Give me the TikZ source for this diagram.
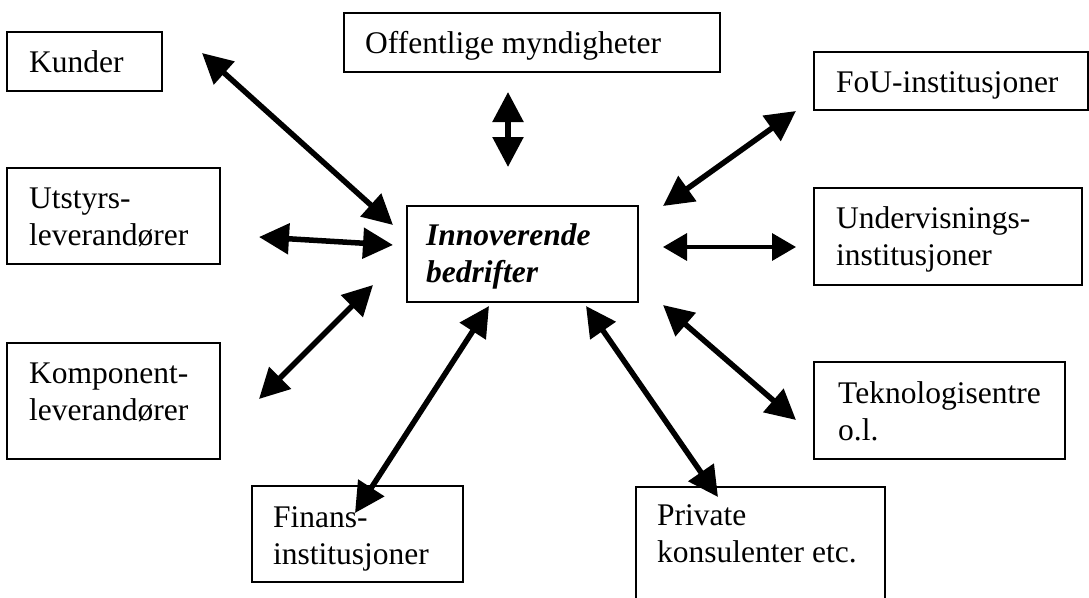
\documentclass[tikz,border=0pt]{standalone}
\usepackage{fontspec}
\setmainfont{Liberation Serif}
\usetikzlibrary{arrows.meta}
\begin{document}
\begin{tikzpicture}[x=1pt,y=-1pt,
  boxstyle/.style={draw=black,line width=1.2pt},
  lbl/.style={anchor=base west,inner sep=0pt,align=left,font=\fontsize{31.5}{37}\selectfont},
  biarrow/.style={line width=5.5pt,{Triangle[length=30pt,width=30pt]}-{Triangle[length=30pt,width=30pt]}},
  thinarrow/.style={line width=3.5pt,{Triangle[length=24pt,width=27pt]}-{Triangle[length=24pt,width=27pt]}}]
\useasboundingbox (0,0) rectangle (1089,597);
\clip (0,0) rectangle (1089,597);
\fill[white] (0,0) rectangle (1089,597);
% boxes (text nodes anchored at the baseline of their last line)
\draw[boxstyle] (7,32) rectangle (162,91);
\node[lbl] (tkunder) at (29,72) {Kunder};
\draw[boxstyle] (344,13) rectangle (720,72);
\node[lbl] (toff) at (365,53) {Offentlige myndigheter};
\draw[boxstyle] (814,52) rectangle (1088,110);
\node[lbl] (tfou) at (836,92) {FoU-institusjoner};
\draw[boxstyle] (7,168) rectangle (220,264);
\node[lbl] (tutst) at (29,245) {Utstyrs-\\leverandører};
\draw[boxstyle] (407,206) rectangle (638,302);
\node[lbl,font=\fontsize{31.5}{37}\selectfont\bfseries\itshape] (tinnov) at (426,282) {Innoverende\\bedrifter};
\draw[boxstyle] (814,188) rectangle (1082,285);
\node[lbl] (tunder) at (836,265) {Undervisnings-\\institusjoner};
\draw[boxstyle] (7,343) rectangle (220,459);
\node[lbl] (tkomp) at (29,420) {Komponent-\\leverandører};
\draw[boxstyle] (814,362) rectangle (1065,459);
\node[lbl] (ttek) at (838,440) {Teknologisentre\\o.l.};
\draw[boxstyle] (252,486) rectangle (463,582);
\node[lbl] (tfin) at (273,564) {Finans-\\institusjoner};
\draw[boxstyle] (636,487) rectangle (885,640);
\node[lbl] (tpriv) at (657,562) {Private\\konsulenter etc.};
% arrow end points
\coordinate (k1) at (202,53);  \coordinate (k2) at (393,225);
\coordinate (u1) at (259,237); \coordinate (u2) at (393,245);
\coordinate (c1) at (259,399); \coordinate (c2) at (373,285);
\coordinate (f1) at (355,513); \coordinate (f2) at (489,306);
\coordinate (p1) at (586,306); \coordinate (p2) at (718,497);
\coordinate (t1) at (663,305); \coordinate (t2) at (796,420);
\coordinate (v1) at (663,247); \coordinate (v2) at (796,247);
\coordinate (r1) at (663,206); \coordinate (r2) at (796,111);
\coordinate (o1) at (508,92);  \coordinate (o2) at (508,167);
% arrows
\draw[biarrow] (k1) -- (k2);
\draw[biarrow] (u1) -- (u2);
\draw[biarrow] (c1) -- (c2);
\draw[biarrow] (f1) -- (f2);
\draw[biarrow] (p1) -- (p2);
\draw[biarrow] (t1) -- (t2);
\draw[thinarrow] (v1) -- (v2);
\draw[biarrow] (r1) -- (r2);
\draw[biarrow] (o1) -- (o2);
\end{tikzpicture}
\end{document}
